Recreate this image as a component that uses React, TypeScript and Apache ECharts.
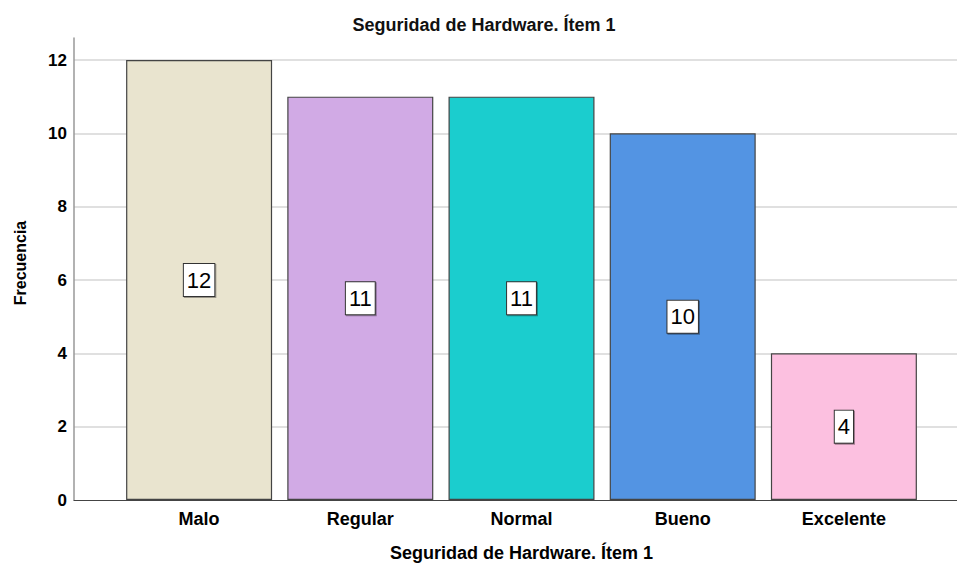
import React, { useEffect, useRef } from "react";
import * as echarts from "echarts";

const categories = ["Malo", "Regular", "Normal", "Bueno", "Excelente"];
const values = [12, 11, 11, 10, 4];
const colors = ["#E9E4CF", "#D1AAE5", "#1BCDCE", "#5394E3", "#FCC0E0"];
const yTicks = [0, 2, 4, 6, 8, 10, 12];
const titleText = "Seguridad de Hardware. Ítem 1";
const yName = "Frecuencia";

const FONT = "'Liberation Sans', Arial, sans-serif";

export default function App() {
  const ref = useRef<HTMLDivElement>(null);
  useEffect(() => {
    document.body.style.margin = "0";
    if (!ref.current) return;
    const chart = echarts.init(ref.current, undefined, { renderer: "svg" });
    const yMax = 12.6;
    chart.setOption({
      animation: false,
      backgroundColor: "#ffffff",
      textStyle: { fontFamily: FONT },
      title: {
        text: titleText,
        left: 484,
        textAlign: "center",
        top: 15,
        padding: 0,
        textStyle: { fontSize: 18, lineHeight: 20, fontWeight: "bold", color: "#111", fontFamily: FONT },
      },
      grid: [
        { left: 74, right: 0, top: 38, bottom: 64, containLabel: false, outerBoundsMode: "none" },
        { left: 118.5, right: 32.5, top: 38, bottom: 64, containLabel: false, outerBoundsMode: "none" },
      ],
      xAxis: [
        {
          gridIndex: 0,
          type: "value",
          min: 0,
          max: 1,
          axisLine: { show: true, lineStyle: { color: "#444", width: 1 } },
          axisTick: { show: false },
          axisLabel: { show: false },
          splitLine: { show: false },
        },
        {
          gridIndex: 1,
          type: "category",
          data: categories,
          axisLine: { show: false },
          axisTick: { show: false },
          axisLabel: { fontSize: 18, fontWeight: "bold", color: "#000", margin: 10, fontFamily: FONT },
          name: titleText,
          nameLocation: "middle",
          nameGap: 44,
          nameTextStyle: { fontSize: 18, lineHeight: 18, fontWeight: "bold", color: "#000", fontFamily: FONT },
        },
      ],
      yAxis: [
        {
          gridIndex: 0,
          type: "value",
          min: 0,
          max: yMax,
          interval: 2,
          axisLine: { show: true, lineStyle: { color: "#999", width: 1.5 } },
          axisTick: { show: false },
          axisLabel: {
            fontSize: 17,
            fontWeight: "bold",
            color: "#000",
            margin: 7,
            fontFamily: FONT,
            formatter: (v: number) => (yTicks.includes(v) ? String(v) : ""),
          },
          splitLine: { show: true, showMinLine: false, showMaxLine: false, lineStyle: { color: "#d6d6d6", width: 1.5 } },
          name: yName,
          nameLocation: "middle",
          nameGap: 46,
          nameTextStyle: { fontSize: 16, fontWeight: "bold", color: "#000", fontFamily: FONT, padding: [0, 0, 0, 12] },
        },
        {
          gridIndex: 1,
          type: "value",
          min: 0,
          max: yMax,
          show: false,
          splitLine: { show: false },
        },
      ],
      series: [
        {
          type: "bar",
          xAxisIndex: 1,
          yAxisIndex: 1,
          barWidth: 146,
          data: values.map((v, i) => ({
            value: v,
            itemStyle: { color: colors[i], borderColor: "#444", borderWidth: 1.2 },
          })),
          label: {
            show: true,
            position: "inside",
            formatter: "{c}",
            fontSize: 22,
            color: "#000",
            fontFamily: FONT,
            backgroundColor: "#ffffff",
            borderColor: "#333",
            borderWidth: 1,
            padding: [6, 3, 4, 3],
            shadowColor: "rgba(0,0,0,0.35)",
            shadowOffsetX: 1,
            shadowOffsetY: 1,
            shadowBlur: 1,
          },
        },
      ],
    });
    return () => chart.dispose();
  }, []);
  return <div ref={ref} style={{ width: 957, height: 564 }} />;
}
